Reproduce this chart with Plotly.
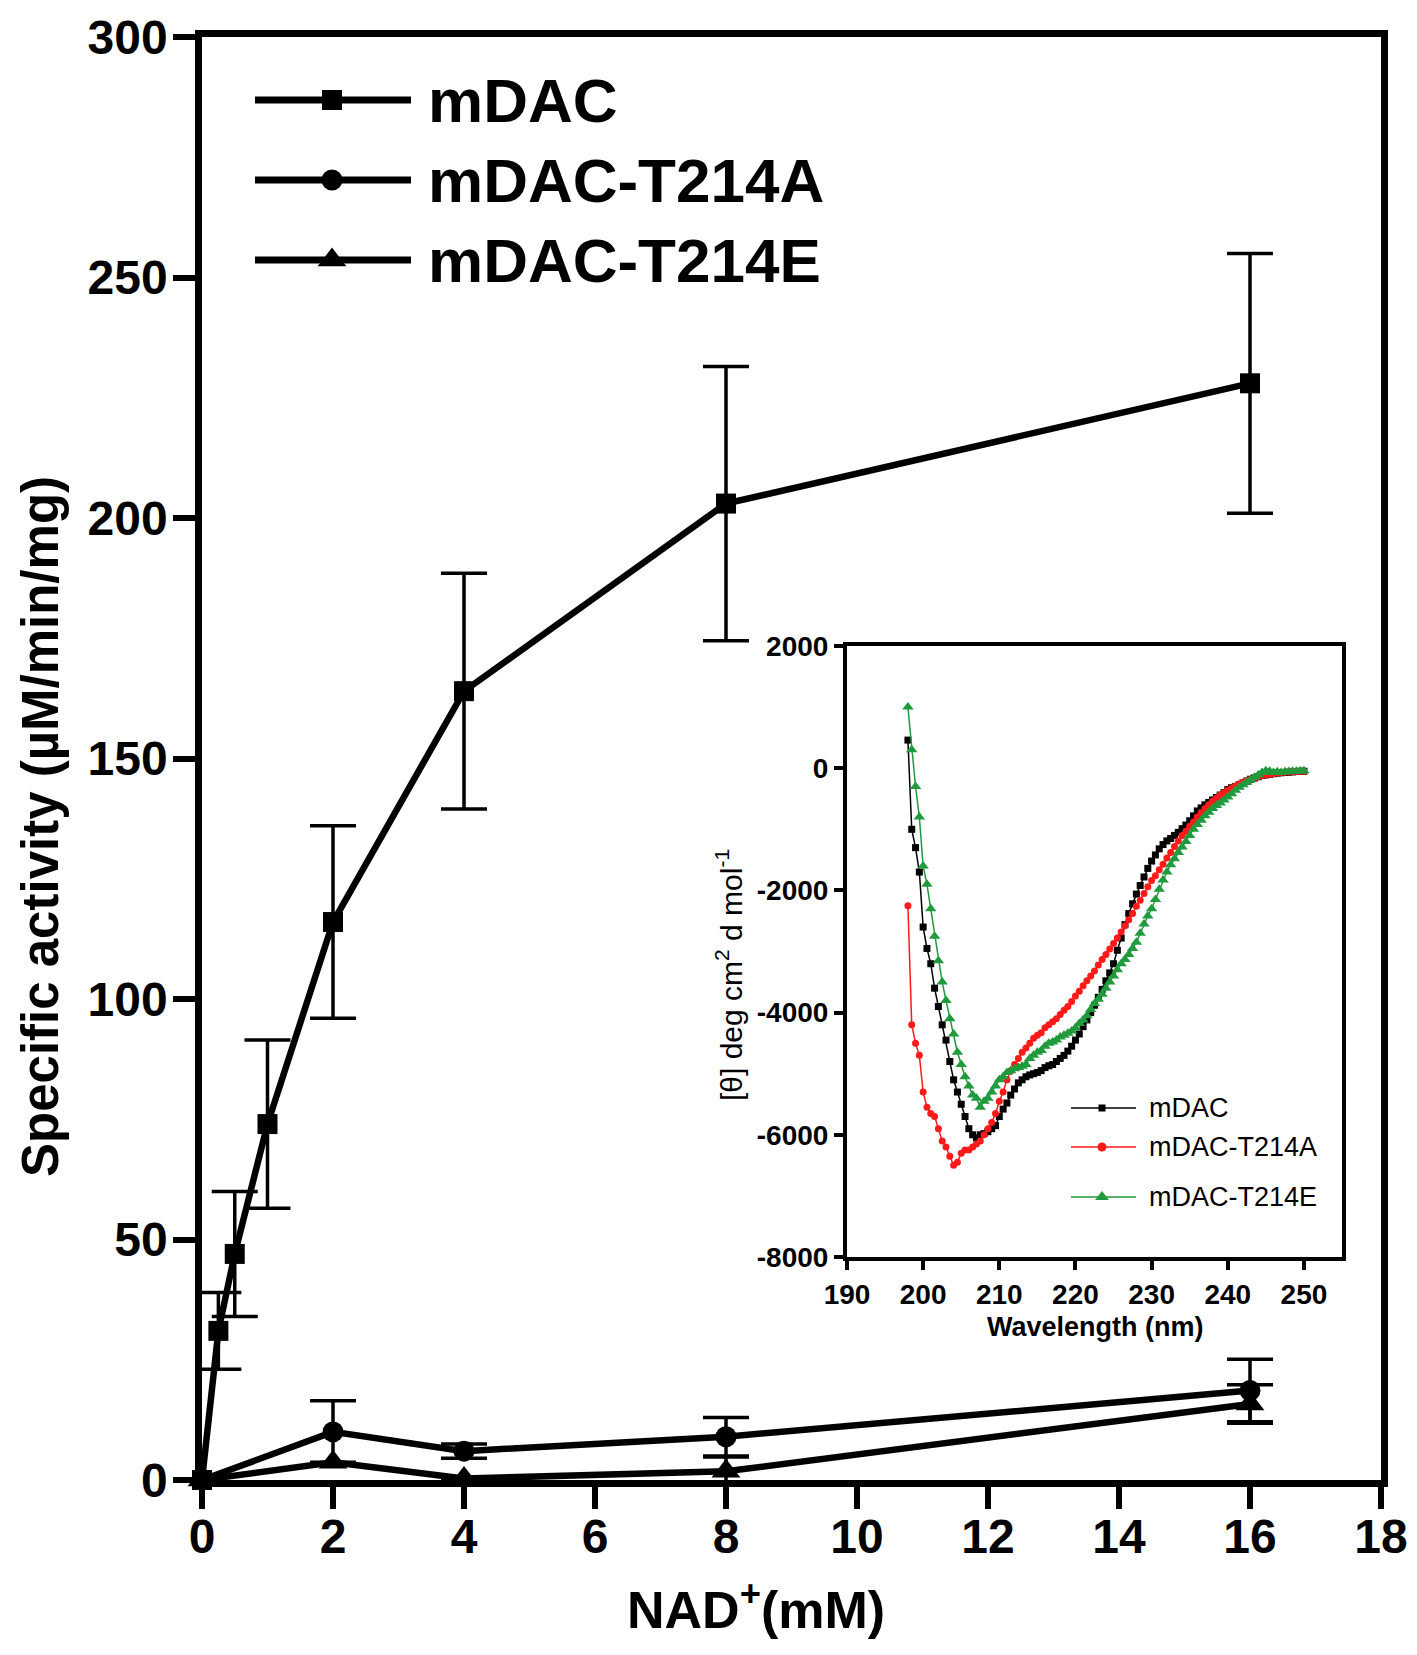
import plotly.graph_objects as go

# ---------------- main panel data ----------------
nad_mdac = [0, 0.25, 0.5, 1, 2, 4, 8, 16]
act_mdac = [0, 31, 47, 74, 116, 164, 203, 228]
err_mdac = [0, 8, 13, 17.5, 20, 24.5, 28.5, 27]

nad_mut = [0, 2, 4, 8, 16]
act_t214a = [0, 10, 6, 9, 18.6]
err_t214a = [0, 6.5, 1.5, 4, 6.5]
act_t214e = [0, 3.7, 0.3, 1.8, 15.8]
err_t214e = [0, 0, 0, 3, 4]

x_ticks = [0, 2, 4, 6, 8, 10, 12, 14, 16, 18]
y_ticks = [0, 50, 100, 150, 200, 250, 300]

# ---------------- inset (CD spectra) data ----------------
wl = [198.0, 198.5, 199.0, 199.5, 200.0, 200.5, 201.0, 201.5, 202.0, 202.5,
      203.0, 203.5, 204.0, 204.5, 205.0, 205.5, 206.0, 206.5, 207.0, 207.5,
      208.0, 208.5, 209.0, 209.5, 210.0, 210.5, 211.0, 211.5, 212.0, 212.5,
      213.0, 213.5, 214.0, 214.5, 215.0, 215.5, 216.0, 216.5, 217.0, 217.5,
      218.0, 218.5, 219.0, 219.5, 220.0, 220.5, 221.0, 221.5, 222.0, 222.5,
      223.0, 223.5, 224.0, 224.5, 225.0, 225.5, 226.0, 226.5, 227.0, 227.5,
      228.0, 228.5, 229.0, 229.5, 230.0, 230.5, 231.0, 231.5, 232.0, 232.5,
      233.0, 233.5, 234.0, 234.5, 235.0, 235.5, 236.0, 236.5, 237.0, 237.5,
      238.0, 238.5, 239.0, 239.5, 240.0, 240.5, 241.0, 241.5, 242.0, 242.5,
      243.0, 243.5, 244.0, 244.5, 245.0, 245.5, 246.0, 246.5, 247.0, 247.5,
      248.0, 248.5, 249.0, 249.5, 250.0]

cd_mdac = [460, -1000, -1300, -1700, -2600, -2950, -3200, -3600, -3900, -4200,
           -4450, -4800, -5100, -5300, -5500, -5700, -5900, -6000, -6050, -6000,
           -5980, -5950, -5900, -5850, -5700, -5580, -5480, -5350, -5250, -5150,
           -5100, -5050, -5020, -5000, -4980, -4950, -4900, -4870, -4850, -4800,
           -4750, -4700, -4630, -4550, -4450, -4350, -4230, -4120, -4000, -3880,
           -3750, -3620, -3480, -3350, -3200, -2980, -2780, -2560, -2380, -2220,
           -2060, -1920, -1780, -1640, -1520, -1420, -1320, -1250, -1190, -1150,
           -1100, -1050, -990, -930, -860, -780, -700, -650, -600, -560,
           -520, -480, -440, -400, -350, -320, -300, -270, -240, -210,
           -180, -160, -140, -120, -110, -100, -90, -80, -75, -70,
           -65, -60, -55, -50, -50]

cd_t214a = [-2250, -4200, -4500, -4700, -5300, -5550, -5650, -5700, -5900, -6100,
            -6200, -6350, -6500, -6450, -6300, -6250, -6250, -6200, -6150, -6100,
            -6000, -5900, -5800, -5650, -5450, -5300, -5100, -4950, -4850, -4750,
            -4650, -4580, -4500, -4420, -4370, -4330, -4250, -4200, -4150, -4100,
            -4030, -3960, -3900, -3820, -3730, -3650, -3560, -3480, -3400, -3320,
            -3220, -3130, -3050, -2960, -2870, -2780, -2680, -2580, -2480, -2380,
            -2260, -2160, -2050, -1940, -1840, -1760, -1660, -1570, -1470, -1380,
            -1280, -1190, -1100, -1030, -950, -880, -800, -730, -660, -600,
            -540, -490, -440, -400, -360, -330, -290, -260, -230, -200,
            -180, -160, -140, -120, -110, -100, -90, -80, -70, -65,
            -60, -55, -55, -50, -50]

cd_t214e = [1000, 300, -300, -800, -1600, -1900, -2300, -2750, -3150, -3500,
            -3800, -4100, -4350, -4650, -4850, -5050, -5200, -5350, -5400, -5550,
            -5450, -5400, -5300, -5200, -5100, -5050, -4980, -4950, -4920, -4900,
            -4880, -4850, -4750, -4700, -4650, -4620, -4550, -4500, -4480, -4450,
            -4400, -4370, -4340, -4300, -4250, -4180, -4120, -4050, -3950, -3850,
            -3780, -3700, -3600, -3500, -3400, -3300, -3200, -3130, -3050, -2950,
            -2850, -2700, -2550, -2420, -2300, -2150, -1980, -1830, -1700, -1580,
            -1480, -1380, -1290, -1200, -1100, -1000, -920, -850, -780, -720,
            -660, -610, -570, -520, -470, -420, -360, -310, -270, -230,
            -190, -150, -110, -70, -40, -50, -70, -60, -70, -60,
            -55, -50, -50, -45, -40]

inset_x_ticks = [190, 200, 210, 220, 230, 240, 250]
inset_y_ticks = [-8000, -6000, -4000, -2000, 0, 2000]
inset_y_labels = ["-8000", "-6000", "-4000", "-2000", "0", "2000"]

series_names = ["mDAC", "mDAC-T214A", "mDAC-T214E"]
cd_colors = ["#000000", "#ff1a1a", "#1f9a3c"]

# ---------------- layout helpers ----------------
# the page adds an 8 px body margin, so the figure is shrunk and every
# target pixel position is shifted by that offset
OFF = 8
W, H = 1417 - 2 * OFF, 1655 - 2 * OFF
FONT = "Liberation Sans, Arial, sans-serif"


def px(xp):
    return (xp - OFF) / W


def py(yp):
    return 1 - (yp - OFF) / H


fig = go.Figure()

err_style = dict(type="data", color="black", thickness=3.5, width=23)

fig.add_trace(go.Scatter(
    x=nad_mdac, y=act_mdac, mode="lines+markers", name=series_names[0],
    line=dict(color="black", width=6.5),
    marker=dict(symbol="square", size=20, color="black"),
    error_y=dict(array=err_mdac, **err_style), cliponaxis=False, showlegend=False))
fig.add_trace(go.Scatter(
    x=nad_mut, y=act_t214a, mode="lines+markers", name=series_names[1],
    line=dict(color="black", width=6.5),
    marker=dict(symbol="circle", size=21, color="black"),
    error_y=dict(array=err_t214a, **err_style), cliponaxis=False, showlegend=False))
fig.add_trace(go.Scatter(
    x=nad_mut, y=act_t214e, mode="lines+markers", name=series_names[2],
    line=dict(color="black", width=6.5),
    marker=dict(symbol="triangle-up", size=25, color="black"),
    error_y=dict(array=err_t214e, **err_style), cliponaxis=False, showlegend=False))

# inset traces
cd_series = [cd_mdac, cd_t214a, cd_t214e]
cd_symbols = ["square", "circle", "triangle-up"]
cd_sizes = [7, 7, 10]
for name, vals, col, sym, sz in zip(series_names, cd_series, cd_colors, cd_symbols, cd_sizes):
    fig.add_trace(go.Scatter(
        x=wl, y=vals, mode="lines+markers", name=name,
        line=dict(color=col, width=1.5),
        marker=dict(symbol=sym, size=sz, color=col),
        xaxis="x2", yaxis="y2", showlegend=False))

# legends drawn on a hidden pixel-mapped overlay axis
main_leg_y = [100, 180, 260]
main_syms = ["square", "circle", "triangle-up"]
main_sizes = [20, 21, 25]
for yy, sym, sz in zip(main_leg_y, main_syms, main_sizes):
    fig.add_trace(go.Scatter(
        x=[255, 411], y=[yy, yy], mode="lines", line=dict(color="black", width=7),
        xaxis="x3", yaxis="y3", showlegend=False, hoverinfo="skip", cliponaxis=False))
    fig.add_trace(go.Scatter(
        x=[332], y=[yy], mode="markers", marker=dict(symbol=sym, size=sz, color="black"),
        xaxis="x3", yaxis="y3", showlegend=False, hoverinfo="skip", cliponaxis=False))

inset_leg_y = [1108, 1147, 1197]
for yy, sym, sz, col in zip(inset_leg_y, cd_symbols, [7, 9, 12], cd_colors):
    fig.add_trace(go.Scatter(
        x=[1071, 1136], y=[yy, yy], mode="lines", line=dict(color=col, width=1.5),
        xaxis="x3", yaxis="y3", showlegend=False, hoverinfo="skip", cliponaxis=False))
    fig.add_trace(go.Scatter(
        x=[1102], y=[yy], mode="markers", marker=dict(symbol=sym, size=sz, color=col),
        xaxis="x3", yaxis="y3", showlegend=False, hoverinfo="skip", cliponaxis=False))

annotations = []
for yy, name in zip(main_leg_y, series_names):
    annotations.append(dict(
        x=426, y=yy, xref="x3", yref="y3", text=name, showarrow=False,
        xanchor="left", yanchor="middle",
        font=dict(family=FONT, size=62, color="black", weight="bold")))
for yy, name in zip(inset_leg_y, series_names):
    annotations.append(dict(
        x=1147, y=yy, xref="x3", yref="y3", text=name, showarrow=False,
        xanchor="left", yanchor="middle",
        font=dict(family=FONT, size=27, color="black")))

# axis titles
annotations.append(dict(
    x=px(40), y=py(827), xref="paper", yref="paper",
    text="Specific activity (µM/min/mg)", textangle=-90, showarrow=False,
    xanchor="center", yanchor="middle",
    font=dict(family=FONT, size=51, color="black", weight="bold")))
annotations.append(dict(
    x=px(756), y=py(1606), xref="paper", yref="paper",
    text="NAD<sup>+</sup>(mM)", showarrow=False,
    xanchor="center", yanchor="middle",
    font=dict(family=FONT, size=52, color="black", weight="bold")))
annotations.append(dict(
    x=px(729), y=py(975), xref="paper", yref="paper",
    text="[θ] deg cm<sup>2</sup> d mol<sup>-1</sup>", textangle=-90, showarrow=False,
    xanchor="center", yanchor="middle",
    font=dict(family=FONT, size=30, color="black")))
annotations.append(dict(
    x=px(1095), y=py(1327), xref="paper", yref="paper",
    text="Wavelength (nm)", showarrow=False,
    xanchor="center", yanchor="middle",
    font=dict(family=FONT, size=27, color="black", weight="bold")))

main_axis = dict(showline=True, linecolor="black", linewidth=6.5, mirror=True,
                 ticks="outside", ticklen=22, tickwidth=6, tickcolor="black",
                 showgrid=False, zeroline=False, automargin=False,
                 ticklabeloverflow="allow",
                 tickfont=dict(family=FONT, size=48, color="black", weight="bold"))
inset_axis = dict(showline=True, linecolor="black", linewidth=4, mirror=True,
                  ticks="outside", ticklen=9, tickwidth=4, tickcolor="black",
                  showgrid=False, zeroline=False, automargin=False,
                  ticklabeloverflow="allow",
                  tickfont=dict(family=FONT, size=28, color="black", weight="bold"))

fig.update_layout(
    template="none",
    width=W, height=H, autosize=False,
    margin=dict(l=0, r=0, t=0, b=0, pad=0, autoexpand=False),
    paper_bgcolor="white", plot_bgcolor="rgba(0,0,0,0)",
    showlegend=False,
    xaxis=dict(domain=[px(202), px(1381)], range=[0, 18], tickvals=x_ticks,
               anchor="y", ticklabelstandoff=-13, **main_axis),
    yaxis=dict(domain=[py(1480), py(37)], range=[0, 300], tickvals=y_ticks,
               anchor="x", ticklabelstandoff=-4, **main_axis),
    xaxis2=dict(domain=[px(847), px(1342)], range=[190, 255], tickvals=inset_x_ticks,
                anchor="y2", **inset_axis),
    yaxis2=dict(domain=[py(1257), py(646)], range=[-8000, 2000], tickvals=inset_y_ticks,
                ticktext=inset_y_labels, anchor="x2", **inset_axis),
    xaxis3=dict(domain=[0, 1], range=[OFF, OFF + W], visible=False, anchor="y3",
                fixedrange=True, automargin=False),
    yaxis3=dict(domain=[0, 1], range=[OFF + H, OFF], visible=False, anchor="x3",
                fixedrange=True, automargin=False),
    annotations=annotations,
)

fig.write_html("out.html")
